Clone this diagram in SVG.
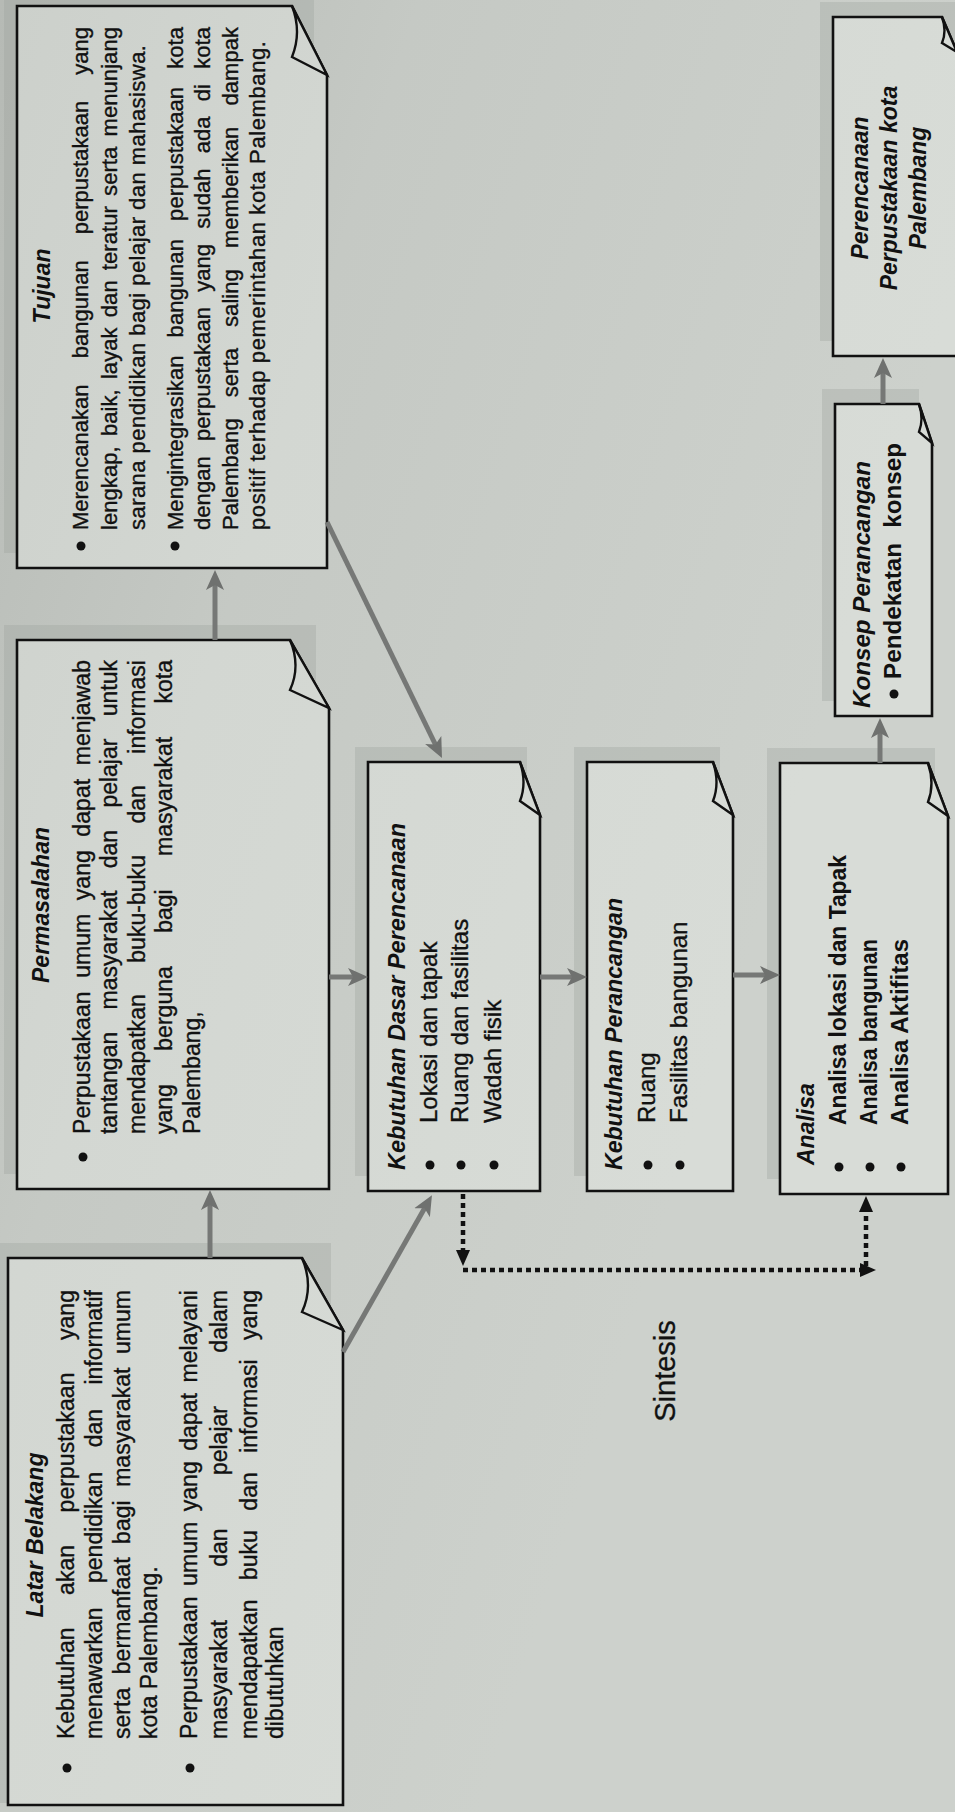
<svg xmlns="http://www.w3.org/2000/svg" width="955" height="1812" viewBox="0 0 955 1812">
<defs>
<linearGradient id="bg" x1="0" y1="0" x2="955" y2="300" gradientUnits="userSpaceOnUse">
<stop offset="0" stop-color="#b6bab5"/><stop offset="0.4" stop-color="#c5c9c4"/><stop offset="1" stop-color="#cdd1cc"/>
</linearGradient>
<linearGradient id="bx" x1="0" y1="0" x2="955" y2="300" gradientUnits="userSpaceOnUse">
<stop offset="0" stop-color="#ccd0cb"/><stop offset="0.4" stop-color="#d3d7d2"/><stop offset="1" stop-color="#d8dcd7"/>
</linearGradient>
<marker id="ga" markerUnits="userSpaceOnUse" markerWidth="20" markerHeight="20" viewBox="0 0 20 20" refX="10" refY="10" orient="auto"><path d="M0,1 L20,10 L0,19 L5,10 Z" fill="#6f716f"/></marker>
<marker id="ba" markerUnits="userSpaceOnUse" markerWidth="16" markerHeight="16" viewBox="0 0 16 16" refX="6" refY="8" orient="auto"><path d="M0,1 L16,8 L0,15 Z" fill="#111"/></marker>
<style>
.sh{fill:#9fa39e;opacity:.35}
.box{fill:url(#bx);stroke:#111;stroke-width:2.6;stroke-linejoin:miter}
.fold{fill:url(#bx);stroke:#111;stroke-width:2.4;stroke-linejoin:miter}
text{font-family:"Liberation Sans",Arial,sans-serif;fill:#111}
.b{font-size:23px;stroke:#111;stroke-width:0.35}
.b22{font-size:22px;stroke:#111;stroke-width:0.35}
.b24{font-size:24px;stroke:#111;stroke-width:0.35}
.h{font-size:23px;font-weight:bold;font-style:italic}
.k{font-size:23px;font-weight:bold}
.dot{fill:#111}
.ga{fill:none;stroke:#767876;stroke-width:5;marker-end:url(#ga)}
.da{fill:none;stroke:#111;stroke-width:4.5;stroke-dasharray:5 4;marker-end:url(#ba)}
.sin{font-size:29px;stroke:#111;stroke-width:0.3}
</style>
</defs>
<rect width="955" height="1812" fill="url(#bg)"/>

<g id="node-latar-belakang">
<rect class="sh" x="-5" y="1243" width="336" height="560"/>
<path class="box" d="M8,1258 H302 L343,1330 V1805 H8 Z"/>
<path class="fold" d="M302,1258 Q314,1286 302,1312 L343,1330 Z"/>
<text class="h" text-anchor="middle" transform="translate(43 1535) rotate(-90)">Latar Belakang</text>
<circle class="dot" cx="67" cy="1768" r="4.5"/>
<circle class="dot" cx="190" cy="1768" r="4.5"/>
<text class="b" transform="translate(74 1739) rotate(-90)" word-spacing="26" textLength="449" lengthAdjust="spacing">Kebutuhan akan perpustakaan yang</text>
<text class="b" transform="translate(102 1739) rotate(-90)" word-spacing="18" textLength="449" lengthAdjust="spacing">menawarkan pendidikan dan informatif</text>
<text class="b" transform="translate(130 1739) rotate(-90)" word-spacing="7" textLength="449" lengthAdjust="spacing">serta bermanfaat bagi masyarakat umum</text>
<text class="b" transform="translate(157 1739) rotate(-90)">kota Palembang.</text>
<text class="b" transform="translate(197 1739) rotate(-90)" word-spacing="4" textLength="449" lengthAdjust="spacing">Perpustakaan umum yang dapat melayani</text>
<text class="b" transform="translate(227 1739) rotate(-90)" word-spacing="47" textLength="449" lengthAdjust="spacing">masyarakat dan pelajar dalam</text>
<text class="b" transform="translate(257 1739) rotate(-90)" word-spacing="13" textLength="449" lengthAdjust="spacing">mendapatkan buku dan informasi yang</text>
<text class="b" transform="translate(283 1739) rotate(-90)">dibutuhkan</text>
</g>

<g id="node-permasalahan">
<rect class="sh" x="4" y="625" width="312" height="549"/>
<path class="box" d="M17,640 H290 L329,708 V1189 H17 Z"/>
<path class="fold" d="M290,640 Q301,666 290,690 L329,708 Z"/>
<text class="h" text-anchor="middle" transform="translate(49 905) rotate(-90)">Permasalahan</text>
<circle class="dot" cx="83" cy="1157" r="4.5"/>
<text class="b" transform="translate(90 1134) rotate(-90)" word-spacing="7" textLength="474" lengthAdjust="spacing">Perpustakaan umum yang dapat menjawab</text>
<text class="b" transform="translate(117 1134) rotate(-90)" word-spacing="16" textLength="474" lengthAdjust="spacing">tantangan masyarakat dan pelajar untuk</text>
<text class="b" transform="translate(145 1134) rotate(-90)" word-spacing="25" textLength="474" lengthAdjust="spacing">mendapatkan buku-buku dan informasi</text>
<text class="b" transform="translate(172 1134) rotate(-90)" word-spacing="27" textLength="474" lengthAdjust="spacing">yang berguna bagi masyarakat kota</text>
<text class="b" transform="translate(200 1134) rotate(-90)">Palembang,</text>
</g>

<g id="node-tujuan">
<rect class="sh" x="4" y="-9" width="310" height="562"/>
<path class="box" d="M17,6 H292 L327,75 V568 H17 Z"/>
<path class="fold" d="M292,6 Q302,32 292,57 L327,75 Z"/>
<text class="h" text-anchor="middle" transform="translate(50 286) rotate(-90)">Tujuan</text>
<circle class="dot" cx="81" cy="546" r="4.5"/>
<circle class="dot" cx="175" cy="546" r="4.5"/>
<text class="b22" transform="translate(88 530) rotate(-90)" word-spacing="20" textLength="503" lengthAdjust="spacing">Merencanakan bangunan perpustakaan yang</text>
<text class="b22" transform="translate(117 530) rotate(-90)" word-spacing="4" textLength="503" lengthAdjust="spacing">lengkap, baik, layak dan teratur serta menunjang</text>
<text class="b22" transform="translate(145 530) rotate(-90)" textLength="485" lengthAdjust="spacing">sarana pendidikan bagi pelajar dan mahasiswa.</text>
<text class="b22" transform="translate(183 530) rotate(-90)" word-spacing="12" textLength="503" lengthAdjust="spacing">Mengintegrasikan bangunan perpustakaan kota</text>
<text class="b22" transform="translate(210 530) rotate(-90)" word-spacing="9" textLength="503" lengthAdjust="spacing">dengan perpustakaan yang sudah ada di kota</text>
<text class="b22" transform="translate(238 530) rotate(-90)" word-spacing="15" textLength="503" lengthAdjust="spacing">Palembang serta saling memberikan dampak</text>
<text class="b22" transform="translate(265 530) rotate(-90)" textLength="489" lengthAdjust="spacing">positif terhadap pemerintahan kota Palembang.</text>
</g>

<g id="node-kebutuhan-dasar-perencanaan">
<rect class="sh" x="355" y="747" width="172" height="429"/>
<path class="box" d="M368,762 H520 L540,815 V1191 H368 Z"/>
<path class="fold" d="M520,762 Q527,783 520,801 L540,815 Z"/>
<text class="h" transform="translate(405 1170) rotate(-90)" textLength="347" lengthAdjust="spacingAndGlyphs">Kebutuhan Dasar Perencanaan</text>
<circle class="dot" cx="430" cy="1165" r="4.5"/>
<circle class="dot" cx="461" cy="1165" r="4.5"/>
<circle class="dot" cx="494" cy="1165" r="4.5"/>
<text class="b24" transform="translate(437 1123) rotate(-90)">Lokasi dan tapak</text>
<text class="b24" transform="translate(468 1123) rotate(-90)">Ruang dan fasilitas</text>
<text class="b24" transform="translate(501 1123) rotate(-90)">Wadah fisik</text>
</g>

<g id="node-kebutuhan-perancangan">
<rect class="sh" x="574" y="747" width="146" height="429"/>
<path class="box" d="M587,762 H713 L733,815 V1191 H587 Z"/>
<path class="fold" d="M713,762 Q720,783 713,801 L733,815 Z"/>
<text class="h" transform="translate(622 1170) rotate(-90)" textLength="272" lengthAdjust="spacingAndGlyphs">Kebutuhan Perancangan</text>
<circle class="dot" cx="648" cy="1165" r="4.5"/>
<circle class="dot" cx="680" cy="1165" r="4.5"/>
<text class="b24" transform="translate(655 1123) rotate(-90)">Ruang</text>
<text class="b24" transform="translate(687 1123) rotate(-90)">Fasilitas bangunan</text>
</g>

<g id="node-analisa">
<rect class="sh" x="767" y="748" width="168" height="431"/>
<path class="box" d="M780,763 H928 L948,816 V1194 H780 Z"/>
<path class="fold" d="M928,763 Q935,784 928,802 L948,816 Z"/>
<text class="h" transform="translate(814 1165) rotate(-90)">Analisa</text>
<circle class="dot" cx="839" cy="1167" r="4.5"/>
<circle class="dot" cx="870" cy="1167" r="4.5"/>
<circle class="dot" cx="901" cy="1167" r="4.5"/>
<text class="k" transform="translate(846 1125) rotate(-90)" textLength="270" lengthAdjust="spacingAndGlyphs">Analisa lokasi dan Tapak</text>
<text class="k" transform="translate(877 1125) rotate(-90)" textLength="186" lengthAdjust="spacingAndGlyphs">Analisa bangunan</text>
<text class="k" transform="translate(908 1125) rotate(-90)" textLength="186" lengthAdjust="spacingAndGlyphs">Analisa Aktifitas</text>
</g>

<g id="node-konsep-perancangan">
<rect class="sh" x="822" y="389" width="97" height="312"/>
<path class="box" d="M835,404 H919 L932,443 V716 H835 Z"/>
<path class="fold" d="M919,404 Q924,419 919,432 L932,443 Z"/>
<text class="h" transform="translate(870 708) rotate(-90)" textLength="247" lengthAdjust="spacingAndGlyphs">Konsep Perancangan</text>
<circle class="dot" cx="894" cy="694" r="4.5"/>
<text class="k" transform="translate(901 679) rotate(-90)" word-spacing="8" textLength="236" lengthAdjust="spacingAndGlyphs">Pendekatan konsep</text>
</g>

<g id="node-perencanaan-perpustakaan">
<rect class="sh" x="820" y="2" width="140" height="339"/>
<path class="box" d="M833,17 H942 L957,52 V356 H833 Z"/>
<path class="fold" d="M942,17 Q947,31 942,43 L957,52 Z"/>
<text class="h" text-anchor="middle" transform="translate(868 188) rotate(-90)">Perencanaan</text>
<text class="h" text-anchor="middle" transform="translate(897 188) rotate(-90)">Perpustakaan kota</text>
<text class="h" text-anchor="middle" transform="translate(926 188) rotate(-90)">Palembang</text>
</g>

<g id="connectors">
<path class="ga" d="M210,1258 V1200"/>
<path class="ga" d="M215,640 V580"/>
<path class="ga" d="M329,977 H358"/>
<path class="ga" d="M540,977 H577"/>
<path class="ga" d="M733,975 H770"/>
<path class="ga" d="M880,763 V728"/>
<path class="ga" d="M883,404 V368"/>
<path class="ga" d="M343,1352 L427,1204"/>
<path class="ga" d="M327,522 L437.6,749"/>
<path class="da" d="M463,1194 V1256"/>
<path class="da" d="M463,1270 H866"/>
<path class="da" d="M866,1266 V1206"/>
<text class="sin" text-anchor="middle" transform="translate(675 1371) rotate(-90)">Sintesis</text>
</g>
</svg>
